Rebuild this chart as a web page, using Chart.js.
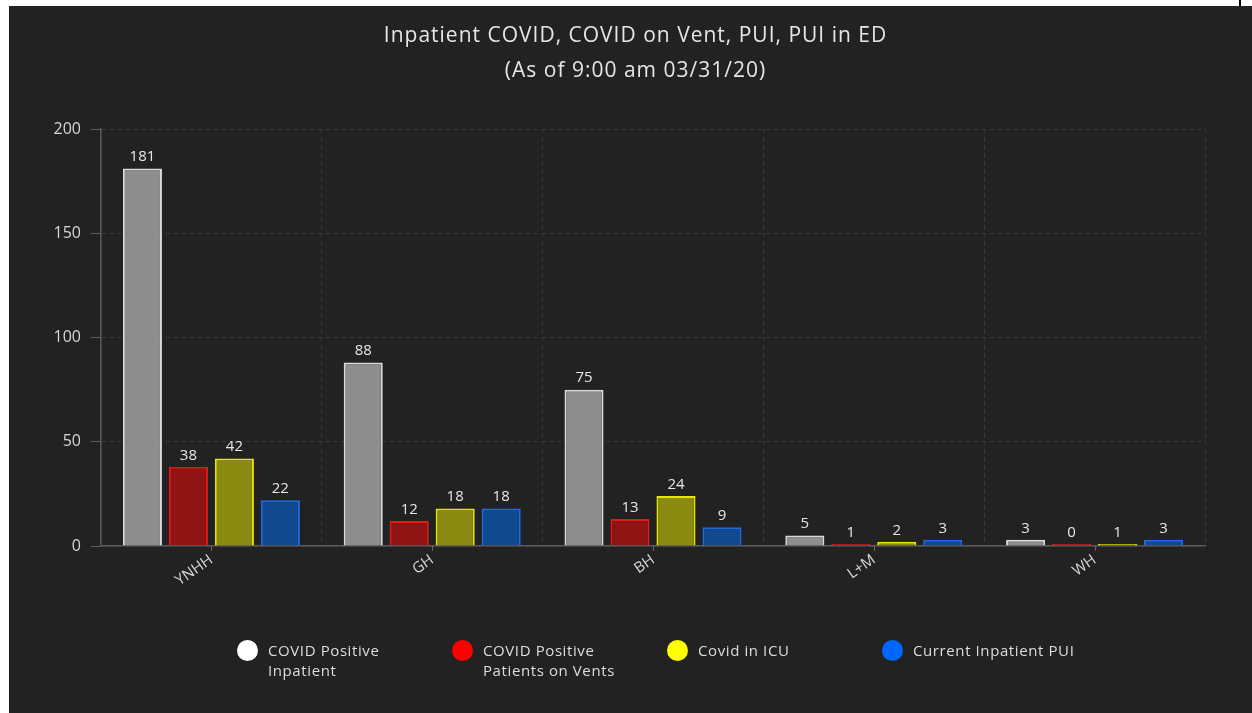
<!DOCTYPE html>
<html>
<head>
<meta charset="utf-8">
<script src="https://cdn.jsdelivr.net/npm/chart.js@4"></script>
<style>
    body { margin: 0; background: #fff; font-family: "Open Sans", sans-serif; }
    #panel {
        position: absolute; left: 9px; top: 6px; width: 1243px; height: 707px;
        background: #222222; border-left: 1px solid #1a1a1a; box-sizing: border-box;
    }
    #mark { position: absolute; left: 1239px; top: 0; width: 2px; height: 6px; background: #000; }
    #title {
        position: absolute; left: 4px; top: 11px; width: 1243px; text-align: center;
        color: #e6e6e6; font-size: 21px; line-height: 35px; letter-spacing: 1px;
    }
    #chart { position: absolute; left: 0; top: 0; }
    #legend { position: absolute; left: 227px; top: 634px; display: flex; }
    .item { width: 215px; display: flex; align-items: flex-start; }
    .dot { width: 21px; height: 21px; border-radius: 50%; margin-right: 10px; flex: none; margin-top: 0; }
    .label { color: #dddddd; font-size: 15px; line-height: 20px; letter-spacing: 0.6px; }
</style>
</head>
<body>
<div id="mark"></div>
<div id="panel">
    <canvas id="chart" width="1243" height="707"></canvas>
    <div id="title">Inpatient COVID, COVID on Vent, PUI, PUI in ED<br>(As of 9:00 am 03/31/20)</div>
    <div id="legend"></div>
</div>
<script>
// data
const categories = ['YNHH', 'GH', 'BH', 'L+M', 'WH'];
const covidPositive = [181, 88, 75, 5, 3];
const onVents = [38, 12, 13, 1, 0];
const inIcu = [42, 18, 24, 2, 1];
const inpatientPui = [22, 18, 9, 3, 3];
const yTicks = [0, 50, 100, 150, 200];

const seriesNames = [
    ['COVID Positive', 'Inpatient'],
    ['COVID Positive', 'Patients on Vents'],
    ['Covid in ICU'],
    ['Current Inpatient PUI']
];
const fills = ['#8e8e8e', '#901414', '#8b8b12', '#124a8f'];
const borders = ['#d9d9d9', '#e31a1a', '#e6e600', '#1c6be0'];
const dots = ['#ffffff', '#ff0000', '#ffff00', '#0066ff'];

const allSeries = [covidPositive, onVents, inIcu, inpatientPui];

// value labels above bars
const valueLabels = {
    id: 'valueLabels',
    afterDatasetsDraw(chart) {
        const ctx = chart.ctx;
        ctx.save();
        ctx.fillStyle = '#e6e6e6';
        ctx.font = '15px "Open Sans"';
        ctx.textAlign = 'center';
        ctx.textBaseline = 'bottom';
        chart.data.datasets.forEach((ds, i) => {
            chart.getDatasetMeta(i).data.forEach((bar, j) => {
                ctx.fillText(ds.data[j], bar.x, bar.y - 4);
            });
        });
        ctx.restore();
    }
};

// small tick marks under category centres (grid lines sit on the boundaries)
const centreTicks = {
    id: 'centreTicks',
    afterDraw(chart) {
        const sc = chart.scales.x;
        const ctx = chart.ctx;
        ctx.save();
        ctx.strokeStyle = '#666';
        ctx.lineWidth = 1;
        sc.ticks.forEach((t, i) => {
            const x = Math.round(sc.getPixelForTick(i)) + 0.5;
            ctx.beginPath();
            ctx.moveTo(x, sc.top);
            ctx.lineTo(x, sc.top + 5);
            ctx.stroke();
        });
        ctx.restore();
    }
};

new Chart(document.getElementById('chart'), {
    type: 'bar',
    data: {
        labels: categories,
        datasets: allSeries.map((d, i) => ({
            label: seriesNames[i].join(' '),
            data: d,
            backgroundColor: fills[i],
            borderColor: borders[i],
            borderWidth: 2,
            minBarLength: 2,
            categoryPercentage: 0.833,
            barPercentage: 0.85
        }))
    },
    options: {
        responsive: false,
        animation: false,
        layout: { padding: { left: 0, right: 48, top: 123, bottom: 0 } },
        plugins: {
            legend: { display: false },
            tooltip: { enabled: false }
        },
        scales: {
            x: {
                afterFit(scale) { scale.height = 167; },
                grid: { color: '#3a3a3a', drawTicks: false, offset: true },
                border: { color: '#595959', width: 1.5, dash: [4, 4] },
                ticks: {
                    color: '#d6d6d6',
                    font: { family: 'Open Sans', size: 15 },
                    minRotation: 35,
                    maxRotation: 35,
                    padding: 5
                }
            },
            y: {
                min: 0,
                max: 200,
                afterFit(scale) { scale.width = 91; },
                afterBuildTicks(scale) { scale.ticks = yTicks.map(v => ({ value: v })); },
                grid: { color: '#3a3a3a', tickLength: 10, tickColor: '#5e5e5e' },
                border: { color: '#595959', width: 1.5, dash: [4, 4] },
                ticks: {
                    color: '#d6d6d6',
                    font: { family: 'Open Sans', size: 16 },
                    padding: 10
                }
            }
        }
    },
    plugins: [valueLabels, centreTicks]
});

// legend with two-line labels
const legend = document.getElementById('legend');
seriesNames.forEach((lines, i) => {
    const item = document.createElement('div');
    item.className = 'item';
    const dot = document.createElement('div');
    dot.className = 'dot';
    dot.style.background = dots[i];
    const label = document.createElement('div');
    label.className = 'label';
    label.innerHTML = lines.join('<br>');
    item.appendChild(dot);
    item.appendChild(label);
    legend.appendChild(item);
});
</script>
</body>
</html>
